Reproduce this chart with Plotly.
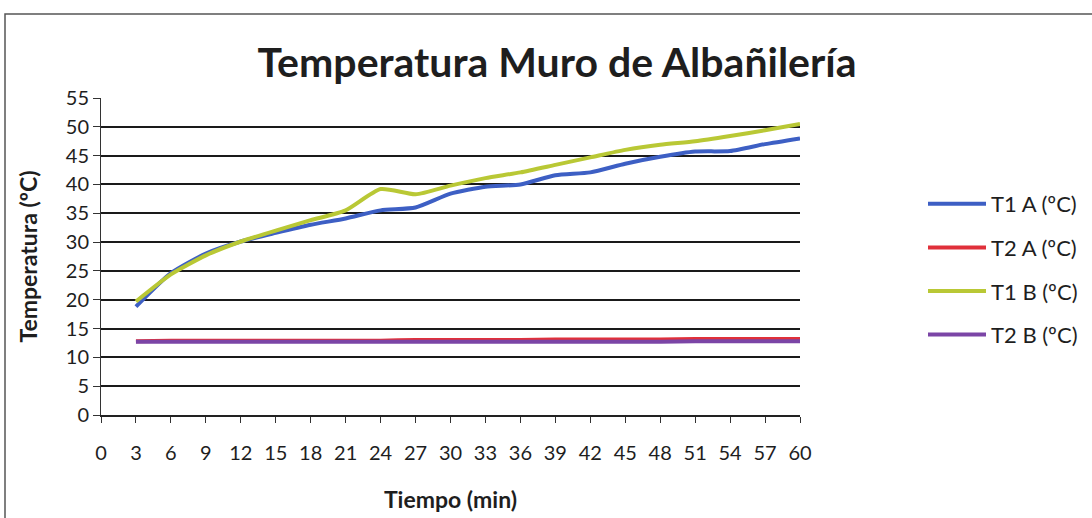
import plotly.graph_objects as go

# Time in minutes and measured wall temperatures (°C)
tiempo = [3, 6, 9, 12, 15, 18, 21, 24, 27, 30, 33, 36, 39, 42, 45, 48, 51, 54, 57, 60]
t1_a = [18.8, 24.6, 28.0, 30.1, 31.6, 33.0, 34.1, 35.5, 36.0, 38.4, 39.6, 40.0, 41.6, 42.1, 43.6, 44.8, 45.7, 45.8, 47.0, 48.0]
t2_a = [12.8, 12.9, 12.9, 12.9, 12.9, 12.9, 12.9, 12.9, 13.0, 13.0, 13.0, 13.0, 13.1, 13.1, 13.1, 13.1, 13.2, 13.2, 13.2, 13.2]
t1_b = [19.7, 24.4, 27.7, 30.1, 32.0, 33.8, 35.5, 39.2, 38.3, 39.8, 41.1, 42.1, 43.4, 44.7, 46.0, 46.9, 47.5, 48.4, 49.4, 50.5]
t2_b = [12.7, 12.7, 12.7, 12.7, 12.7, 12.7, 12.7, 12.7, 12.7, 12.7, 12.7, 12.7, 12.7, 12.7, 12.7, 12.7, 12.8, 12.8, 12.8, 12.8]

series = [
    ("T1 A (ºC)", t1_a, "#3D5FC4"),
    ("T2 A (ºC)", t2_a, "#E0303A"),
    ("T1 B (ºC)", t1_b, "#B9C835"),
    ("T2 B (ºC)", t2_b, "#7B45A6"),
]

x_ticks = list(range(0, 61, 3))
y_ticks = list(range(0, 56, 5))

FONT = "Lato, 'Open Sans', sans-serif"
INK = "#1e1e1e"

# plot area in pixels
W, H = 1092, 518
L, R, T, B = 101, 800, 98, 415
PW, PH = R - L, B - T

fig = go.Figure()
for i, (name, vals, color) in enumerate(series):
    fig.add_trace(go.Scatter(
        x=tiempo, y=vals, name=name, mode="lines",
        line=dict(color=color, width=4, shape="spline", smoothing=0.6),
        legendgroup=f"g{i}",
    ))

fig.update_layout(
    width=W, height=H,
    margin=dict(l=L, r=W - R, t=T, b=H - B),
    paper_bgcolor="white", plot_bgcolor="white",
    font=dict(family=FONT, color=INK, size=20),
    title=dict(
        text="<b>Temperatura Muro de Albañilería</b>",
        x=557 / W, xanchor="center", y=1 - 63 / H, yanchor="middle",
        font=dict(size=41, family=FONT, color=INK),
    ),
    xaxis=dict(
        range=[0, 60], tickvals=x_ticks, ticktext=[str(v) for v in x_ticks],
        showgrid=False, zeroline=False, automargin=False,
        showline=True, linecolor="#222", linewidth=1.8,
        ticks="outside", ticklen=6, tickcolor="#333", tickwidth=1,
        ticklabelstandoff=13,
        tickfont=dict(size=20, family=FONT, color=INK),
        title=dict(text="<b>Tiempo (min)</b>", font=dict(size=23, family=FONT, color=INK), standoff=29),
    ),
    yaxis=dict(
        range=[0, 55], tickvals=y_ticks,
        showgrid=True, gridcolor="#1a1a1a", gridwidth=1.6,
        zeroline=False, automargin=False,
        showline=True, linecolor="#333", linewidth=1,
        ticks="outside", ticklen=7, tickcolor="#333", tickwidth=1,
        tickfont=dict(size=20, family=FONT, color=INK),
        title=dict(text="<b>Temperatura (ºC)</b>", font=dict(size=23, family=FONT, color=INK), standoff=21),
    ),
    legend=dict(
        xref="container", yref="container",
        x=923 / W, xanchor="left", y=1 - 183 / H, yanchor="top",
        traceorder="grouped", tracegroupgap=12,
        font=dict(size=22, family=FONT, color=INK),
        bgcolor="rgba(0,0,0,0)", itemwidth=58,
    ),
    showlegend=True,
)

# Outer frame of the chart
fig.add_shape(type="rect", xref="paper", yref="paper",
              x0=(5 - L) / PW, x1=(1200 - L) / PW, y0=-200 / PH, y1=1 + (T - 14) / PH,
              line=dict(color="#555", width=1.5), fillcolor="rgba(0,0,0,0)", layer="below")

fig.write_html("out.html")
